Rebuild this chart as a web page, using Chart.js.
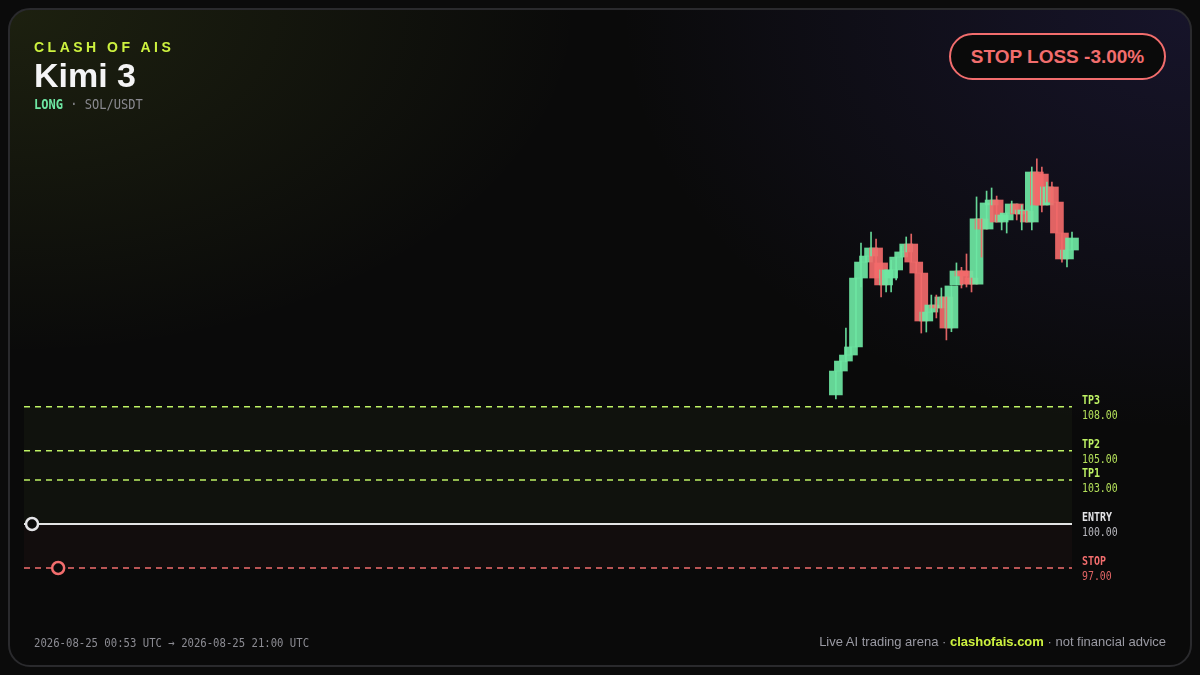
<!DOCTYPE html>
<html>
<head>
<meta charset="utf-8">
<script src="https://cdn.jsdelivr.net/npm/chart.js@4"></script>
<style>
html,body{margin:0;padding:0;width:1200px;height:675px;overflow:hidden;background:#0b0b0b;}
#card{position:absolute;left:8px;top:8px;width:1180px;height:655px;border:2px solid #2a2a2d;border-radius:22px;overflow:hidden;
background:
 radial-gradient(ellipse 760px 460px at 0% 0%, rgba(165,195,55,0.12), rgba(165,195,55,0) 75%),
 radial-gradient(ellipse 760px 560px at 100% 0%, rgba(85,70,200,0.17), rgba(85,70,200,0) 75%),
 #0a0a0a;}
#chart{position:absolute;left:0;top:0;}
.t{position:absolute;white-space:nowrap;}
#brand{left:34px;top:40px;font:bold 14px "Liberation Sans",Arial,sans-serif;line-height:14px;letter-spacing:3.5px;color:#cdf23f;}
#title{left:34px;top:58px;font:bold 34px "Liberation Sans",Arial,sans-serif;line-height:34px;color:#f4f4f5;}
#sub{left:34px;top:97px;font:14px "DejaVu Sans Mono",monospace;line-height:14px;transform:scaleX(0.86);transform-origin:0 0;color:#8a8a90;}
#sub b{color:#6ee7a3;}
#badge{left:949px;top:33px;width:213px;height:43px;border:2px solid #f26d6d;border-radius:24px;background:#0a0a0a;
 font:bold 19px "Liberation Sans",Arial,sans-serif;color:#f26d6d;text-align:center;line-height:44px;}
#footl{left:34px;top:636px;font:12.5px "DejaVu Sans Mono",monospace;line-height:13px;transform:scaleX(0.85);transform-origin:0 0;color:#8c8c93;}
#footr{right:34px;top:634px;font:13px "Liberation Sans",Arial,sans-serif;line-height:16px;color:#9a9aa3;}
#footr b{color:#cdf23f;}
.lvn{font:bold 12px "DejaVu Sans Mono",monospace;line-height:12px;transform:scaleX(0.83);transform-origin:0 0;}
.lvv{font:11.5px "DejaVu Sans Mono",monospace;line-height:12px;transform:scaleX(0.86);transform-origin:0 0;}
</style>
</head>
<body>
<div id="card"></div>
<canvas id="chart" width="1200" height="675"></canvas>
<div class="t" id="brand">CLASH OF AIS</div>
<div class="t" id="title">Kimi 3</div>
<div class="t" id="sub"><b>LONG</b> · SOL/USDT</div>
<div class="t" id="badge">STOP LOSS -3.00%</div>
<div class="t" id="footl">2026-08-25 00:53 UTC → 2026-08-25 21:00 UTC</div>
<div class="t" id="footr">Live AI trading arena · <b>clashofais.com</b> · not financial advice</div>
<script>
// ---- data ----
const candleTimes = [808,813,818,823,828,833,838,843,848,853,858,863,868,873,878,883,888,893,898,903,908,913,918,923,928,933,938,943,948,953,958,963,968,973,978,983,988,993,998,1003,1008,1013,1018,1023,1028,1033,1038,1043];
const opens  = [108.80,110.43,111.11,111.52,112.07,116.77,117.86,118.27,118.82,117.80,116.30,116.77,117.32,118.20,118.55,119.09,117.86,117.11,113.84,114.45,114.93,114.73,115.48,113.36,116.30,117.25,117.25,116.77,116.36,120.80,120.11,121.75,122.09,120.59,120.73,121.20,121.82,121.14,121.34,120.59,124.00,123.86,121.75,122.98,121.95,119.84,118.07,118.68];
const highs  = [110.43,111.11,113.36,112.07,116.77,119.16,118.27,119.91,119.43,117.80,117.32,118.00,118.20,118.95,119.57,119.77,117.86,117.11,114.45,115.61,115.61,116.09,115.48,116.23,117.80,117.50,118.41,116.77,122.30,120.80,122.70,122.91,122.36,121.07,121.20,122.02,121.82,121.75,121.34,124.34,124.89,124.34,123.32,123.32,121.95,119.84,118.68,119.91];
const lows   = [108.52,110.43,111.05,111.52,112.07,116.16,117.86,118.27,116.77,115.48,115.82,115.82,116.64,118.20,118.55,117.86,117.11,113.02,113.09,114.45,114.05,114.73,112.55,113.11,116.30,116.09,116.16,115.82,116.36,118.20,120.11,121.75,120.59,120.05,119.84,121.20,120.73,120.05,120.59,120.05,121.75,121.27,121.75,121.95,119.84,117.86,117.52,118.68];
const closes = [110.43,111.11,111.52,112.07,116.77,117.86,118.27,118.82,116.77,116.30,117.32,117.32,118.20,118.55,119.09,117.86,117.11,113.84,114.45,114.93,114.73,115.48,113.36,116.23,117.25,116.91,116.36,116.36,120.80,120.11,121.89,122.09,120.59,121.07,121.20,121.82,121.14,121.41,120.59,124.00,121.75,121.75,122.98,121.95,119.84,118.07,118.68,119.50];
const levelNames  = ['TP3','TP2','TP1','ENTRY','STOP'];
const levelValues = [108, 105, 103, 100, 97];
const markerTimes = [8, 34];     // entry, stop
const markerValues = [100, 97];
const timeMin = 0, timeMax = 1043;

// ---- styles ----
const UP = 'rgba(110,231,163,0.92)', DOWN = 'rgba(242,106,106,0.92)';
const LIME = '#bef264', RED = '#f26d6d', WHITE = '#e4e4e7';
const levelColors = [LIME, LIME, LIME, WHITE, RED];
const levelValueColors = ['#b4e05a','#b4e05a','#b4e05a','#b8b8be','#e06464'];

const isUp = opens.map((o,i)=>closes[i]>=o);
const bodies = candleTimes.map((t,i)=>({x:t, y:[Math.min(opens[i],closes[i]), Math.max(opens[i],closes[i])]}));
const wicks  = candleTimes.map((t,i)=>({x:t, y:[lows[i], highs[i]]}));
const colors = isUp.map(u=>u?UP:DOWN);

function levelDs(i, extra){
  return Object.assign({
    type:'line',
    data:[{x:timeMin,y:levelValues[i]},{x:timeMax,y:levelValues[i]}],
    borderColor: levelColors[i],
    borderWidth: i===3 ? 2 : 1.5,
    borderDash: i===3 ? [] : [6,5],
    pointRadius:0, fill:false, order:10+i, clip:false
  }, extra||{});
}

const datasets = [
  {type:'bar', data:wicks, backgroundColor:colors, barThickness:1, grouped:false, minBarLength:1, order:0, clip:false},
  {type:'bar', data:bodies, backgroundColor:colors, barThickness:13, grouped:false, minBarLength:1, order:1, clip:false},
  {type:'line', data:markerTimes.map((t,i)=>({x:t,y:markerValues[i]})), showLine:false,
   pointRadius:6, pointBorderWidth:2.5, pointBorderColor:[WHITE, RED], pointBackgroundColor:'#0a0a0a', order:2, clip:false},
  levelDs(0, {fill:6, backgroundColor:'rgba(190,242,100,0.035)'}),
  levelDs(1),
  levelDs(2),
  levelDs(3),
  levelDs(4, {fill:6, backgroundColor:'rgba(242,109,109,0.04)'})
];

const chart = new Chart(document.getElementById('chart'), {
  type:'bar',
  data:{datasets},
  options:{
    responsive:false, animation:false, devicePixelRatio:1, events:[],
    layout:{padding:{left:24,right:128,top:128,bottom:63}},
    plugins:{legend:{display:false}, tooltip:{enabled:false}},
    scales:{
      x:{type:'linear', min:timeMin, max:timeMax, offset:false, display:false, grid:{display:false}},
      y:{type:'linear', min:94, max:127, display:false, grid:{display:false}}
    }
  }
});

// right-hand level labels, positioned from the y scale
const ys = chart.scales.y;
levelNames.forEach((n,i)=>{
  const py = ys.getPixelForValue(levelValues[i]);
  const a = document.createElement('div');
  a.className='t lvn'; a.textContent=n; a.style.left='1082px'; a.style.top=(py-13)+'px'; a.style.color=levelColors[i];
  document.body.appendChild(a);
  const b = document.createElement('div');
  b.className='t lvv'; b.textContent=levelValues[i].toFixed(2); b.style.left='1082px'; b.style.top=(py+2)+'px'; b.style.color=levelValueColors[i];
  document.body.appendChild(b);
});
</script>
</body>
</html>
